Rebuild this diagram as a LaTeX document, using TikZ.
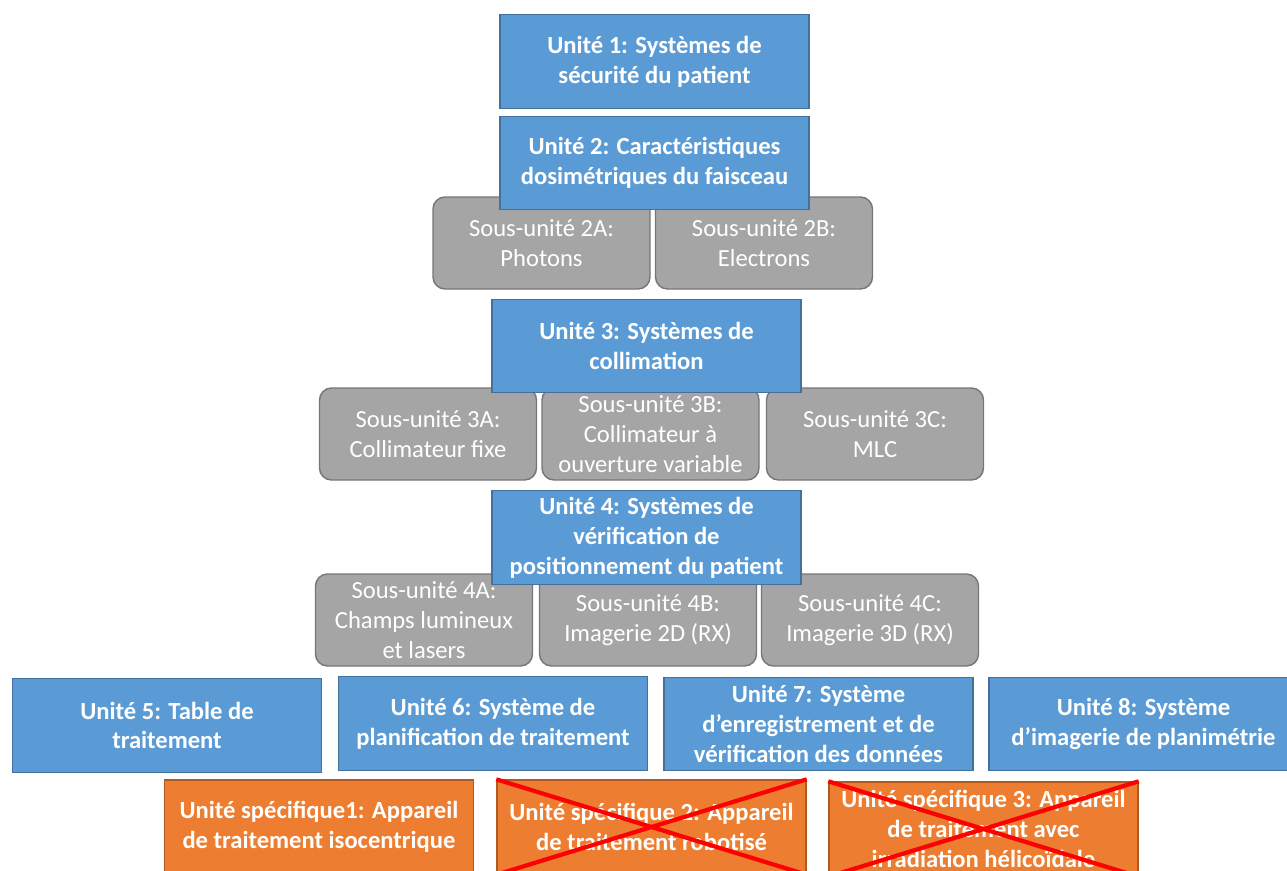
\documentclass[tikz,border=0pt]{standalone}
\usepackage{fontspec}
\setmainfont{Carlito}
\usepackage{xcolor}
\definecolor{unitblue}{RGB}{91,155,213}
\definecolor{unitedge}{RGB}{65,113,156}
\definecolor{subgrey}{RGB}{165,165,165}
\definecolor{subedge}{RGB}{118,118,118}
\definecolor{specorange}{RGB}{237,125,49}
\definecolor{specedge}{RGB}{174,90,33}
\usepackage{tikz}
\usetikzlibrary{positioning}

\begin{document}
\begin{tikzpicture}[
  unit/.style={rectangle, draw=unitedge, thick, fill=unitblue, minimum width=6.18cm, minimum height=1.87cm, align=center, text=white, font=\fontsize{14}{17}\selectfont\bfseries},
  subunit/.style={rectangle, rounded corners=0.24cm, draw=subedge, thick, fill=subgrey, minimum width=4.34cm, minimum height=1.84cm, align=center, text=white, font=\fontsize{14}{17}\selectfont},
  spec/.style={rectangle, draw=specedge, thick, fill=specorange, minimum width=6.18cm, minimum height=1.88cm, align=center, text=white, font=\fontsize{14}{17}\selectfont\bfseries},
  crossout/.style={draw=red, line width=2.4pt}
]
\useasboundingbox (0,0) rectangle (25.74,-17.4);
\clip (0,0) rectangle (25.74,-17.4);

% Sub-units (drawn first, units overlap them)
\node[subunit] (s2a) at (10.83, -4.86) {Sous-unité 2A:\\Photons};
\node[subunit] (s2b) at (15.28, -4.86) {Sous-unité 2B:\\Electrons};

\node[subunit] (s3a) at (8.56, -8.68) {Sous-unité 3A:\\Collimateur fixe};
\node[subunit] (s3b) at (13.01, -8.68) {Sous-unité 3B:\\Collimateur à\\ouverture variable};
\node[subunit] (s3c) at (17.5, -8.68) {Sous-unité 3C:\\MLC};

\node[subunit] (s4a) at (8.48, -12.4) {Sous-unité 4A:\\Champs lumineux\\et lasers};
\node[subunit] (s4b) at (12.96, -12.4) {Sous-unité 4B:\\Imagerie 2D (RX)};
\node[subunit] (s4c) at (17.4, -12.4) {Sous-unité 4C:\\Imagerie 3D (RX)};

% Units
\node[unit] (u1) at (13.09, -1.23) {Unité 1: Systèmes de\\sécurité du patient};
\node[unit] (u2) at (13.09, -3.26) {Unité 2: Caractéristiques\\dosimétriques du faisceau};
\node[unit] (u3) at (12.93, -6.92) {Unité 3: Systèmes de\\collimation};
\node[unit] (u4) at (12.93, -10.75) {Unité 4: Systèmes de\\vérification de\\positionnement du patient};

\node[unit] (u5) at (3.34, -14.51) {Unité 5: Table de\\traitement};
\node[unit] (u6) at (9.86, -14.47) {Unité 6: Système de\\planification de traitement};
\node[unit] (u7) at (16.37, -14.48) {Unité 7: Système\\d’enregistrement et de\\vérification des données};
\node[unit] (u8) at (22.87, -14.48) {Unité 8: Système\\d’imagerie de planimétrie};

% Specific units
\node[spec] (sp1) at (6.38, -16.54) {Unité spécifique1: Appareil\\de traitement isocentrique};
\node[spec] (sp2) at (13.03, -16.54) {Unité spécifique 2: Appareil\\de traitement robotisé};
\node[spec] (sp3) at (19.67, -16.58) {Unité spécifique 3: Appareil\\de traitement avec\\irradiation hélicoïdale};

% Crossed out
\draw[crossout] (sp2.north west) -- (sp2.south east);
\draw[crossout] (sp2.north east) -- (sp2.south west);
\draw[crossout] (sp3.north west) -- (sp3.south east);
\draw[crossout] (sp3.north east) -- (sp3.south west);

\end{tikzpicture}
\end{document}
